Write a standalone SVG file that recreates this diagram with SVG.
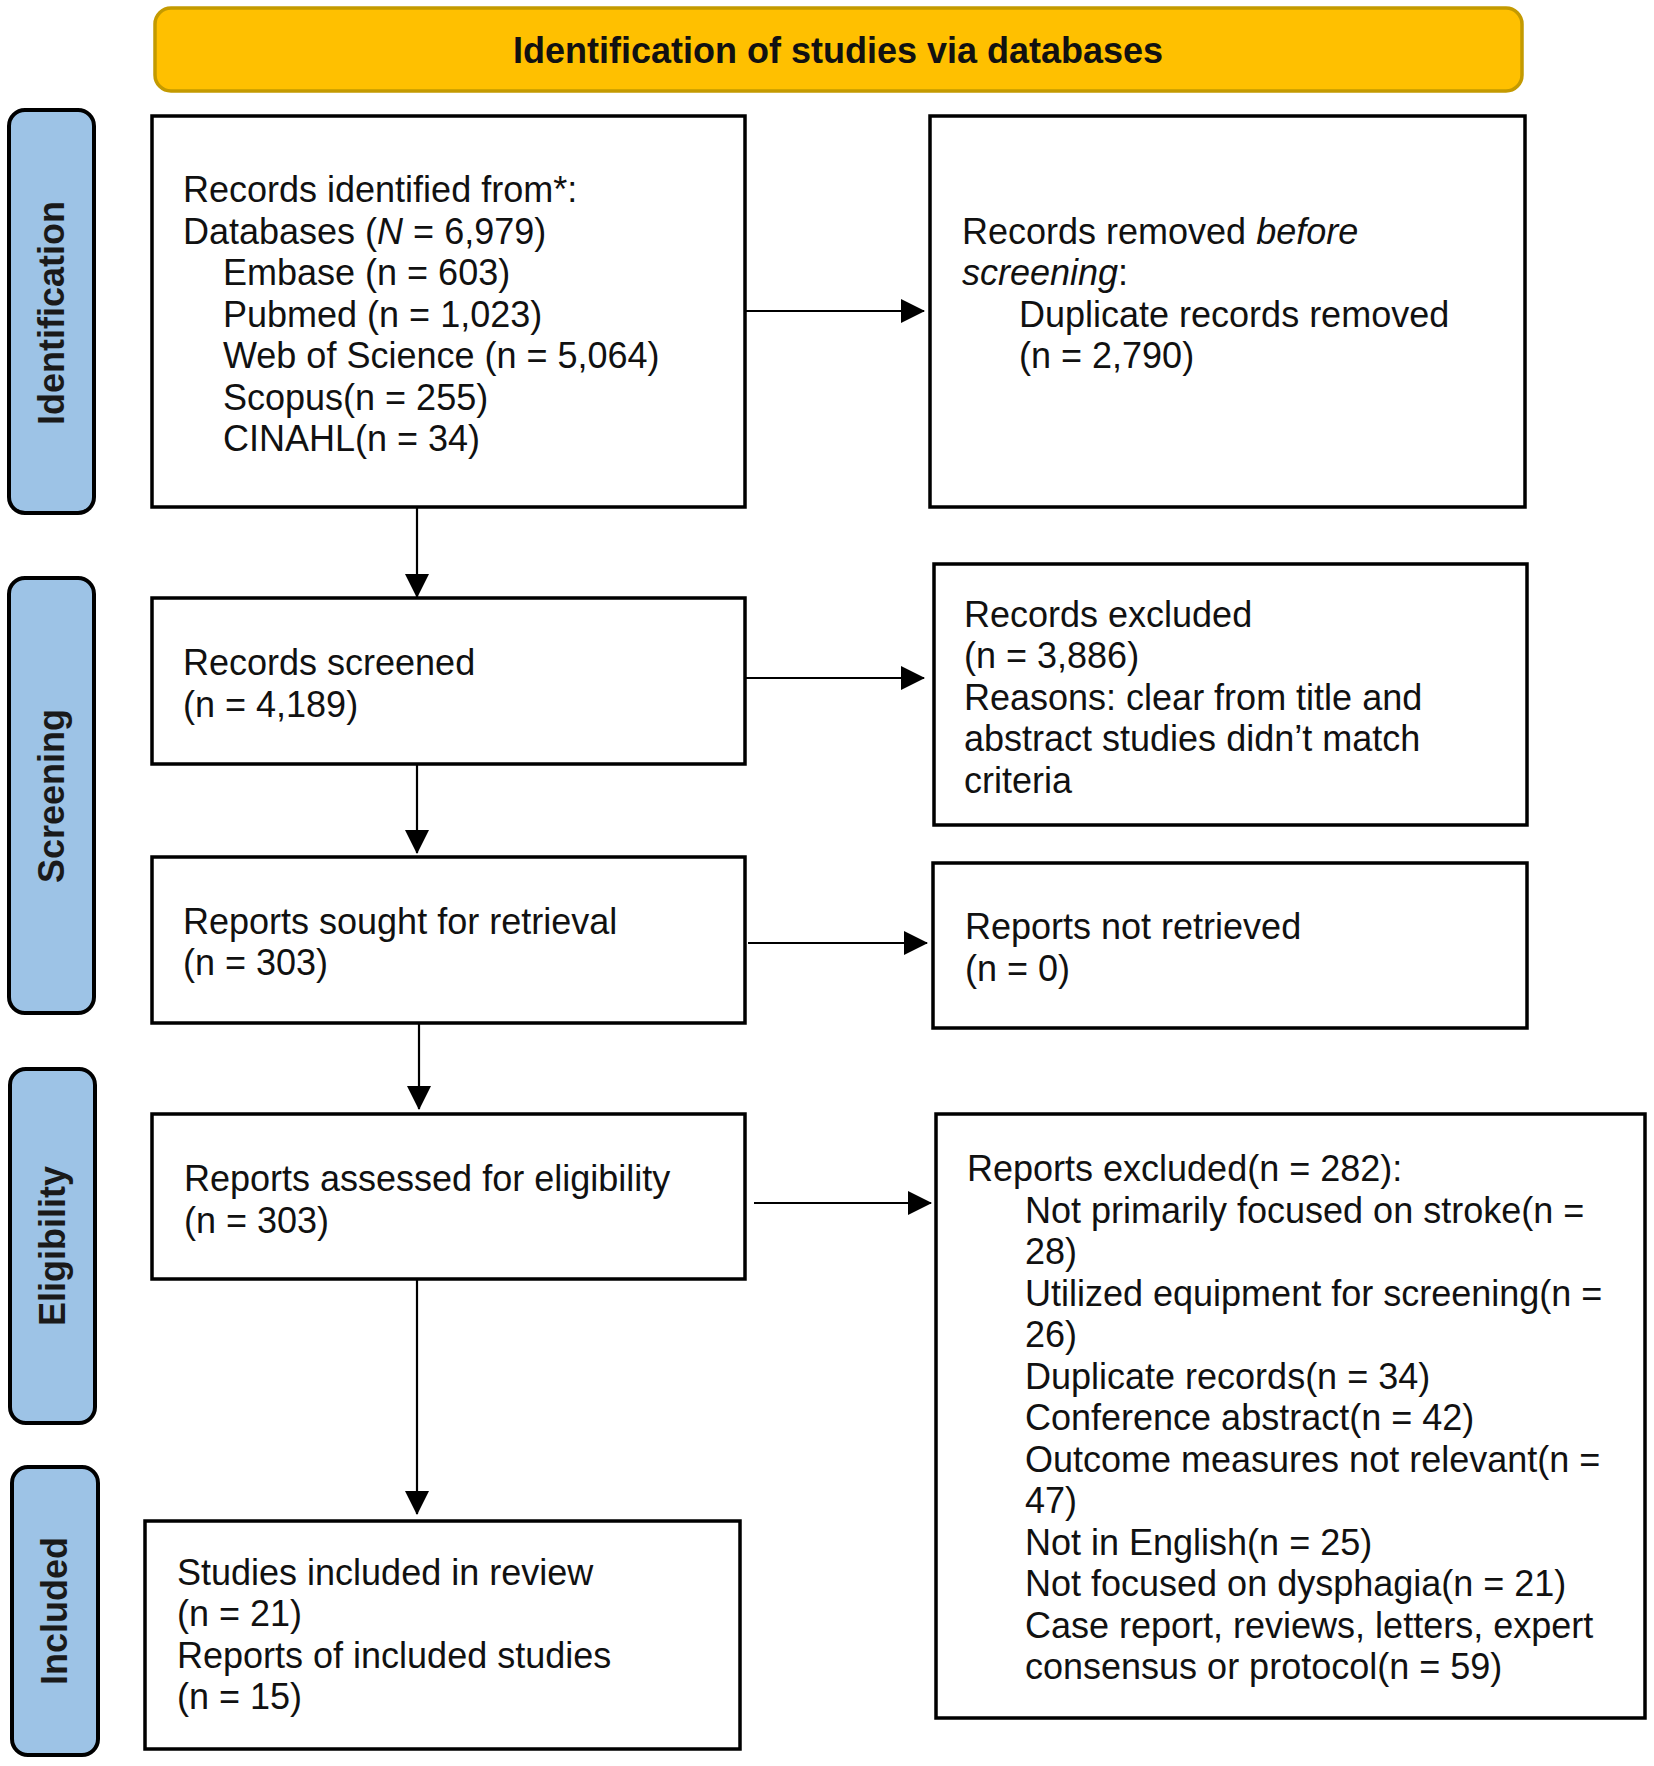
<svg xmlns="http://www.w3.org/2000/svg" width="1654" height="1766" viewBox="0 0 1654 1766">
<defs>
<style>
.box{fill:#fff;stroke:#000;stroke-width:3.5}
.side{fill:#9DC3E6;stroke:#000;stroke-width:4}
.t{font-family:"Liberation Sans",Arial,sans-serif;font-size:36px;fill:#111}
.st{font-family:"Liberation Sans",Arial,sans-serif;font-size:36px;font-weight:bold;fill:#1a1a1a;text-anchor:middle}
.ln{stroke:#000;stroke-width:2.2;fill:none}
</style>
<marker id="ah" markerUnits="userSpaceOnUse" markerWidth="24" markerHeight="24" viewBox="0 0 24 24" refX="23" refY="12" orient="auto">
<path d="M0,0 L24,12 L0,24 Z" fill="#000"/>
</marker>
</defs>
<rect width="1654" height="1766" fill="#fff"/>

<g id="banner">
<rect x="155" y="8" width="1367" height="83" rx="16" fill="#FFC000" stroke="#C49A00" stroke-width="3.5"/>
<text x="838" y="63" font-family="'Liberation Sans',Arial,sans-serif" font-size="36" font-weight="bold" text-anchor="middle" fill="#111">Identification of studies via databases</text>
</g>

<g id="label-identification">
<rect class="side" x="9" y="110" width="85" height="403" rx="16"/>
<text class="st" transform="translate(64,313) rotate(-90)">Identification</text>
</g>
<g id="label-screening">
<rect class="side" x="9" y="578" width="85" height="435" rx="16"/>
<text class="st" transform="translate(64,796) rotate(-90)">Screening</text>
</g>
<g id="label-eligibility">
<rect class="side" x="10" y="1069" width="85" height="354" rx="16"/>
<text class="st" transform="translate(65,1246) rotate(-90)">Eligibility</text>
</g>
<g id="label-included">
<rect class="side" x="12" y="1467" width="86" height="288" rx="16"/>
<text class="st" transform="translate(67,1611) rotate(-90)">Included</text>
</g>

<g id="records-identified">
<rect class="box" x="152" y="116" width="593" height="391"/>
<text class="t" x="183" y="202">Records identified from*:</text>
<text class="t" x="183" y="244">Databases (<tspan font-style="italic">N</tspan> = 6,979)</text>
<text class="t" x="223" y="285">Embase (n = 603)</text>
<text class="t" x="223" y="327">Pubmed (n = 1,023)</text>
<text class="t" x="223" y="368">Web of Science (n = 5,064)</text>
<text class="t" x="223" y="410">Scopus(n = 255)</text>
<text class="t" x="223" y="451">CINAHL(n = 34)</text>
</g>

<g id="records-removed">
<rect class="box" x="930" y="116" width="595" height="391"/>
<text class="t" x="962" y="244">Records removed <tspan font-style="italic">before</tspan></text>
<text class="t" x="962" y="285"><tspan font-style="italic">screening</tspan>:</text>
<text class="t" x="1019" y="327">Duplicate records removed</text>
<text class="t" x="1019" y="368">(n = 2,790)</text>
</g>

<g id="records-screened">
<rect class="box" x="152" y="598" width="593" height="166"/>
<text class="t" x="183" y="675">Records screened</text>
<text class="t" x="183" y="717">(n = 4,189)</text>
</g>

<g id="records-excluded">
<rect class="box" x="934" y="564" width="593" height="261"/>
<text class="t" x="964" y="627">Records excluded</text>
<text class="t" x="964" y="668">(n = 3,886)</text>
<text class="t" x="964" y="710">Reasons: clear from title and</text>
<text class="t" x="964" y="751">abstract studies didn’t match</text>
<text class="t" x="964" y="793">criteria</text>
</g>

<g id="reports-sought">
<rect class="box" x="152" y="857" width="593" height="166"/>
<text class="t" x="183" y="934">Reports sought for retrieval</text>
<text class="t" x="183" y="975">(n = 303)</text>
</g>

<g id="reports-not-retrieved">
<rect class="box" x="933" y="863" width="594" height="165"/>
<text class="t" x="965" y="939">Reports not retrieved</text>
<text class="t" x="965" y="981">(n = 0)</text>
</g>

<g id="reports-assessed">
<rect class="box" x="152" y="1114" width="593" height="165"/>
<text class="t" x="184" y="1191">Reports assessed for eligibility</text>
<text class="t" x="184" y="1233">(n = 303)</text>
</g>

<g id="reports-excluded">
<rect class="box" x="936" y="1114" width="709" height="604"/>
<text class="t" x="967" y="1181">Reports excluded(n = 282):</text>
<text class="t" x="1025" y="1223">Not primarily focused on stroke(n =</text>
<text class="t" x="1025" y="1264">28)</text>
<text class="t" x="1025" y="1306">Utilized equipment for screening(n =</text>
<text class="t" x="1025" y="1347">26)</text>
<text class="t" x="1025" y="1389">Duplicate records(n = 34)</text>
<text class="t" x="1025" y="1430">Conference abstract(n = 42)</text>
<text class="t" x="1025" y="1472">Outcome measures not relevant(n =</text>
<text class="t" x="1025" y="1513">47)</text>
<text class="t" x="1025" y="1555">Not in English(n = 25)</text>
<text class="t" x="1025" y="1596">Not focused on dysphagia(n = 21)</text>
<text class="t" x="1025" y="1638">Case report, reviews, letters, expert</text>
<text class="t" x="1025" y="1679">consensus or protocol(n = 59)</text>
</g>

<g id="studies-included">
<rect class="box" x="145" y="1521" width="595" height="228"/>
<text class="t" x="177" y="1585">Studies included in review</text>
<text class="t" x="177" y="1626">(n = 21)</text>
<text class="t" x="177" y="1668">Reports of included studies</text>
<text class="t" x="177" y="1709">(n = 15)</text>
</g>

<g id="connectors">
<line class="ln" x1="745" y1="311" x2="924" y2="311" marker-end="url(#ah)"/>
<line class="ln" x1="417" y1="508" x2="417" y2="597" marker-end="url(#ah)"/>
<line class="ln" x1="745" y1="678" x2="924" y2="678" marker-end="url(#ah)"/>
<line class="ln" x1="417" y1="764" x2="417" y2="853" marker-end="url(#ah)"/>
<line class="ln" x1="748" y1="943" x2="927" y2="943" marker-end="url(#ah)"/>
<line class="ln" x1="419" y1="1023" x2="419" y2="1109" marker-end="url(#ah)"/>
<line class="ln" x1="754" y1="1203" x2="931" y2="1203" marker-end="url(#ah)"/>
<line class="ln" x1="417" y1="1279" x2="417" y2="1514" marker-end="url(#ah)"/>
</g>
</svg>
